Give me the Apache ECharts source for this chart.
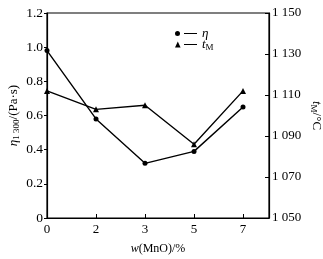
<!DOCTYPE html>
<html><head><meta charset="utf-8">
<script src="https://cdn.jsdelivr.net/npm/echarts@6/dist/echarts.min.js"></script>
<style>html,body{margin:0;padding:0;background:#fff}#c{width:323px;height:259px}</style>
</head><body><div id="c"></div>
<script>
var categories = ['0', '2', '3', '5', '7'];
var etaValues = [0.98, 0.58, 0.32, 0.39, 0.65];
var tmValues = [1112, 1103, 1105, 1086, 1112];
var leftTicks = [0, 0.2, 0.4, 0.6, 0.8, 1.0, 1.2];
var rightTicks = [1050, 1070, 1090, 1110, 1130, 1150];

var F = 'Liberation Serif';
var chart = echarts.init(document.getElementById('c'));
function pts(vals){ return vals.map(function(v,i){ return [i, v]; }); }
chart.setOption({
  animation: false,
  grid: {left: 47, right: 54, top: 13, bottom: 41, containLabel: false, outerBoundsMode: 'none',
    show: true, borderColor: '#000', borderWidth: 1.2, backgroundColor: 'transparent'},
  legend: {
    orient: 'vertical', left: 170, top: 22, itemGap: -2, itemWidth: 22, itemHeight: 6,
    textStyle: {fontFamily: F, fontSize: 13, color: '#000',
      rich: {i: {fontFamily: F, fontStyle: 'italic', fontSize: 13}, s: {fontFamily: F, fontSize: 9, padding: [6,0,0,0]}}},
    formatter: function(n){ return n === 'η' ? '{i|η}' : '{i|t}{s|M}'; },
    data: [
      {name: 'η', icon: 'path://M0,3 A2.5,2.5 0 1,0 5,3 A2.5,2.5 0 1,0 0,3 Z M9,2.4 H22 V3.6 H9 Z'},
      {name: 'tM', icon: 'path://M0,6 L2.8,0 L5.6,6 Z M9,2.4 H22 V3.6 H9 Z'}
    ]
  },
  xAxis: {
    type: 'value', min: 0, max: 4.53, interval: 1,
    name: '{i|w}(MnO)/%', nameLocation: 'middle', nameGap: 25, nameMoveOverlap: false,
    nameTextStyle: {fontFamily: F, fontSize: 12, color: '#000', rich: {i: {fontFamily: F, fontStyle: 'italic', fontSize: 12}}},
    axisLine: {lineStyle: {color: '#000', width: 1.2}},
    axisTick: {inside: true, length: 4, lineStyle: {color: '#000'}},
    splitLine: {show: false},
    axisLabel: {fontFamily: F, fontSize: 13, color: '#000', margin: 5,
      formatter: function(v){ var i = Math.round(v); return (Math.abs(v - i) < 1e-6 && i < categories.length) ? categories[i] : ''; }}
  },
  yAxis: [{
    type: 'value', min: leftTicks[0], max: leftTicks[leftTicks.length-1], interval: 0.2,
    name: '{i|η}{s|1 300}/(Pa·s)', nameLocation: 'middle', nameGap: 26, nameRotate: 90, nameMoveOverlap: false,
    nameTextStyle: {fontFamily: F, fontSize: 13, color: '#000',
      rich: {i: {fontFamily: F, fontStyle: 'italic', fontSize: 13}, s: {fontFamily: F, fontSize: 9, padding: [6,0,0,0]}}},
    axisLine: {show: true, lineStyle: {color: '#000', width: 1.2}},
    axisTick: {show: true, inside: false, length: 3, lineStyle: {color: '#000'}},
    splitLine: {show: false},
    axisLabel: {fontFamily: F, fontSize: 13.5, color: '#000', margin: 4,
      formatter: function(v){ return v === 0 ? '0' : v.toFixed(1); }}
  }, {
    type: 'value', position: 'right', min: rightTicks[0], max: rightTicks[rightTicks.length-1], interval: 20,
    name: '{i|t}{s|M}/°C', nameLocation: 'middle', nameGap: 40, nameRotate: -90, nameMoveOverlap: false,
    nameTextStyle: {fontFamily: F, fontSize: 13, color: '#000',
      rich: {i: {fontFamily: F, fontStyle: 'italic', fontSize: 13}, s: {fontFamily: F, fontSize: 9, padding: [6,0,0,0]}}},
    axisLine: {show: true, lineStyle: {color: '#000', width: 1.2}},
    axisTick: {show: true, inside: true, length: 4, lineStyle: {color: '#000'}},
    splitLine: {show: false},
    axisLabel: {fontFamily: F, fontSize: 13, color: '#000', margin: 3,
      formatter: function(v){ var s = String(v); return s.charAt(0) + ' ' + s.slice(1); }}
  }],
  series: [{
    name: 'η', type: 'line', data: pts(etaValues), yAxisIndex: 0,
    symbol: 'circle', symbolSize: 5,
    lineStyle: {color: '#000', width: 1.4}, itemStyle: {color: '#000'}
  }, {
    name: 'tM', type: 'line', data: pts(tmValues), yAxisIndex: 1,
    symbol: 'triangle', symbolSize: 6,
    lineStyle: {color: '#000', width: 1.4}, itemStyle: {color: '#000'}
  }]
});
</script></body></html>
